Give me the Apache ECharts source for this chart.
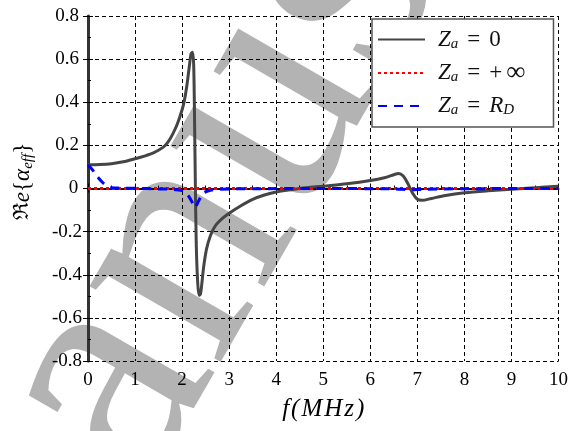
<!DOCTYPE html>
<html><head><meta charset="utf-8">
<script src="https://cdn.jsdelivr.net/npm/echarts@6/dist/echarts.min.js"></script>
<style>html,body{margin:0;padding:0;background:#fff}#c{width:571px;height:431px}</style>
</head><body><div id="c"></div><script>
const xTickValues = [0,1,2,3,4,5,6,7,8,9,10];
const yTickValues = [-0.8,-0.6,-0.4,-0.2,0,0.2,0.4,0.6,0.8];
const seriesNames = ['Za0','ZaInf','ZaRD'];

const xBlack = [0,0.25,0.5,0.75,1.0,1.2,1.4,1.6,1.7,1.8,1.9,2.0,2.05,2.1,2.15,2.19,2.22,2.245,2.26,2.28,2.30,2.33,2.36,2.39,2.42,2.46,2.52,2.6,2.7,2.85,3.0,3.25,3.5,3.75,4.0,4.5,5.0,5.5,6.0,6.3,6.5,6.6,6.7,6.8,6.9,7.0,7.1,7.3,7.6,8.0,8.5,9.0,9.5,10.0];
const yBlack = [0.11,0.111,0.115,0.124,0.138,0.15,0.166,0.192,0.215,0.252,0.3,0.365,0.41,0.475,0.56,0.625,0.632,0.58,0.40,0.05,-0.25,-0.43,-0.495,-0.49,-0.44,-0.36,-0.28,-0.22,-0.175,-0.14,-0.115,-0.08,-0.05,-0.03,-0.016,0.0,0.011,0.022,0.037,0.05,0.064,0.07,0.058,0.022,-0.022,-0.05,-0.055,-0.046,-0.032,-0.02,-0.011,-0.004,0.004,0.011];

const xRed = [0,2.5,5,7.5,10];
const yRed = [0,0,0,0,0];

const xBlue = [0,0.1,0.2,0.3,0.4,0.5,0.7,1.0,1.5,1.8,2.0,2.1,2.2,2.27,2.35,2.45,2.6,2.8,3.5,5.0,6.5,6.9,7.1,8.0,10.0];
const yBlue = [0.11,0.085,0.055,0.03,0.012,0.004,0.002,0.001,-0.002,-0.004,-0.01,-0.025,-0.058,-0.088,-0.058,-0.022,-0.008,-0.003,-0.001,0,-0.002,-0.006,-0.004,-0.001,0];

const zip = (xs, ys) => xs.map((x, i) => [x, ys[i]]);
const serif = 'Liberation Serif';
const ink = '#111';

const legendRich = {
  Z: {fontFamily: serif, fontStyle: 'italic', fontSize: 23, lineHeight: 24, color: ink, padding: [0, 0, 0, 8]},
  R: {fontFamily: serif, fontStyle: 'italic', fontSize: 23, lineHeight: 24, color: ink},
  s: {fontFamily: serif, fontStyle: 'italic', fontSize: 15, lineHeight: 12, verticalAlign: 'bottom', color: ink},
  op: {fontFamily: serif, fontSize: 23, lineHeight: 24, color: ink, padding: [0, 9, 0, 9]},
  pl: {fontFamily: serif, fontSize: 23, lineHeight: 24, color: ink, padding: [0, 4, 0, 0]},
  inf: {fontFamily: serif, fontSize: 27, lineHeight: 24, color: ink},
  e: {fontFamily: serif, fontSize: 23, lineHeight: 24, color: ink}
};
const legendText = {
  Za0: '{Z|Z}{s|a}{op|=}{e|0}',
  ZaInf: '{Z|Z}{s|a}{op|=}{pl|+}{inf|∞}',
  ZaRD: '{Z|Z}{s|a}{op|=}{R|R}{s|D}'
};

const chart = echarts.init(document.getElementById('c'), null, {renderer: 'canvas'});
chart.setOption({
  animation: false,
  backgroundColor: '#fff',
  textStyle: {fontFamily: serif},
  grid: {left: 88, right: 12, top: 16, bottom: 70},
  graphic: [{
    type: 'group', x: 214, y: 272, rotation: Math.PI / 3, z: -10, silent: true,
    children: [{
      type: 'text', x: -522, y: -36,
      style: {text: 'Manuscript', fill: '#b3b3b3', font: '330px Liberation Serif', textAlign: 'left', textVerticalAlign: 'middle', align: 'left', verticalAlign: 'middle'}
    }]
  }],
  legend: {
    orient: 'vertical', left: 372, top: 19,
    backgroundColor: '#fff', borderColor: '#555', borderWidth: 1.5,
    padding: [9, 28, 9, 5], itemGap: 8, itemWidth: 47, itemHeight: 12,
    data: seriesNames,
    itemStyle: {opacity: 0},
    formatter: n => legendText[n],
    textStyle: {rich: legendRich, fontFamily: serif, fontSize: 23}
  },
  xAxis: [{
    type: 'value', min: 0, max: 10, interval: 1, position: 'bottom',
    name: '{a|f}{a|(}{a|M}{a|H}{a|z}{a|)}', nameLocation: 'middle', nameGap: 36,
    nameTextStyle: {fontFamily: serif, fontStyle: 'italic', fontSize: 25, color: '#000',
      rich: {a: {fontFamily: serif, fontStyle: 'italic', fontSize: 25, color: '#000', padding: [0, 1, 0, 1]}}},
    axisLine: {lineStyle: {color: '#000', width: 2}},
    axisTick: {inside: true, length: 5, lineStyle: {color: '#000'}},
    minorTick: {show: true, splitNumber: 2, length: 3, lineStyle: {color: '#000'}},
    splitLine: {show: true, lineStyle: {color: '#000', type: [4, 3], width: 1}},
    axisLabel: {fontFamily: serif, fontSize: 19, color: '#000', margin: 10}
  }, {
    type: 'value', min: 0, max: 10, interval: 1, position: 'top',
    axisLine: {lineStyle: {color: '#000', width: 1.2}},
    axisTick: {inside: true, length: 4, lineStyle: {color: '#000'}},
    axisLabel: {show: false}, splitLine: {show: false}
  }],
  yAxis: [{
    type: 'value', min: -0.8, max: 0.8, interval: 0.2, position: 'left',
    name: '{R|ℜ}{i|e}{b|{}{a|α}{s|eff}}', nameLocation: 'middle', nameGap: 52, nameRotate: 90,
    nameTextStyle: {fontFamily: serif, fontSize: 23, color: '#000', padding: [0, 0, 0, 14], rich: {
      R: {fontFamily: 'DejaVu Serif', fontSize: 21, lineHeight: 26, color: '#000'},
      i: {fontFamily: serif, fontStyle: 'italic', fontSize: 23, lineHeight: 26, color: '#000'},
      b: {fontFamily: serif, fontSize: 23, lineHeight: 26, color: '#000'},
      a: {fontFamily: serif, fontStyle: 'italic', fontSize: 23, lineHeight: 26, color: '#000'},
      s: {fontFamily: serif, fontStyle: 'italic', fontSize: 15, lineHeight: 12, verticalAlign: 'bottom', color: '#000'}
    }},
    axisLine: {lineStyle: {color: '#000', width: 2}},
    axisTick: {inside: true, length: 5, lineStyle: {color: '#000'}},
    minorTick: {show: true, splitNumber: 2, length: 3, lineStyle: {color: '#000'}},
    splitLine: {show: true, lineStyle: {color: '#000', type: [4, 3], width: 1}},
    axisLabel: {fontFamily: serif, fontSize: 19, color: '#000', margin: 21, align: 'center',
      formatter: v => Math.abs(v) < 1e-9 ? '{z|0}' : v.toFixed(1),
      rich: {z: {fontFamily: serif, fontSize: 19, color: '#000', padding: [0, 0, 0, 13]}}}
  }, {
    type: 'value', min: -0.8, max: 0.8, interval: 0.2, position: 'right',
    axisLine: {lineStyle: {color: '#333', width: 3}},
    axisTick: {inside: true, length: 5, lineStyle: {color: '#000'}},
    axisLabel: {show: false}, splitLine: {show: false}
  }],
  series: [
    {name: 'Za0', type: 'line', data: zip(xBlack, yBlack), showSymbol: false, symbol: 'none', smooth: 0.3,
     lineStyle: {color: '#454545', width: 3}, itemStyle: {color: '#454545'}},
    {name: 'ZaInf', type: 'line', data: zip(xRed, yRed), showSymbol: false, symbol: 'none',
     lineStyle: {color: '#ff0000', width: 3, type: [3, 3]}, itemStyle: {color: '#ff0000'}},
    {name: 'ZaRD', type: 'line', data: zip(xBlue, yBlue), showSymbol: false, symbol: 'none', smooth: 0.3,
     lineStyle: {color: '#0000ff', width: 3, type: [9, 7]}, itemStyle: {color: '#0000ff'}}
  ]
});
</script></body></html>
